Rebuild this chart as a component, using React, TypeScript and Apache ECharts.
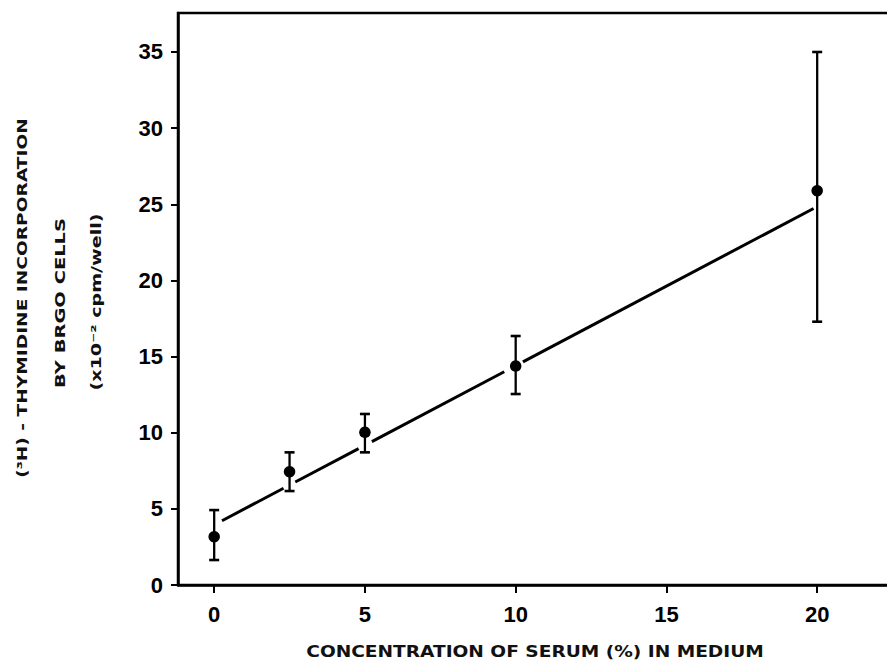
import React, { useEffect, useRef } from "react";
import * as echarts from "echarts";

// Serum concentration (%) and tritiated thymidine uptake (x10^-2 cpm/well)
const serumPct = [0, 2.5, 5, 10, 20];
const incorporation = [3.17, 7.44, 10.03, 14.38, 25.89];
const errLow = [1.64, 6.17, 8.71, 12.54, 17.29];
const errHigh = [4.92, 8.71, 11.23, 16.35, 35.0];

const xTicks = [0, 5, 10, 15, 20];
const yTicks = [0, 5, 10, 15, 20, 25, 30, 35];

// Least-squares line y = a + b*x, drawn in pieces that stop short of each error bar
const fitIntercept = 3.95;
const fitSlope = 1.045;
const fitSegments = [
  [0.26, 2.3],
  [2.69, 4.79],
  [5.23, 9.62],
  [10.24, 19.88],
];

const xTitle = "CONCENTRATION OF SERUM (%) IN MEDIUM";
const yTitleLines = [
  "(³H) - THYMIDINE INCORPORATION",
  "BY BRGO CELLS",
  "(x10⁻² cpm/well)",
];

const X_MIN = -1.2;
const X_MAX = 24;
const Y_MAX = 37.56;
const PX_PER_X = 30.15;

const tickFont = '"Liberation Sans Narrow", "Liberation Sans", Arial, sans-serif';
const titleFamily = '"DejaVu Sans", sans-serif';

function measure(text: string, font: string): number {
  const ctx = document.createElement("canvas").getContext("2d");
  if (!ctx) return text.length * 8;
  ctx.font = font;
  return ctx.measureText(text).width;
}

// Text stretched along its baseline so that it spans a given length
function spacedText(
  text: string,
  size: number,
  x: number,
  y: number,
  span: number,
  vertical: boolean
) {
  const font = `bold ${size}px ${titleFamily}`;
  const w = measure(text, font);
  return {
    type: "text",
    x,
    y,
    rotation: vertical ? Math.PI / 2 : 0,
    scaleX: span / w,
    silent: true,
    style: {
      text,
      font,
      fill: "#111",
      align: "center",
      verticalAlign: "middle",
      textAlign: "center",
      textVerticalAlign: "middle",
    },
  };
}

export default function App() {
  const ref = useRef<HTMLDivElement>(null);

  useEffect(() => {
    if (!ref.current) return;
    const chart = echarts.init(ref.current, undefined, { renderer: "svg" });

    const lineSeries = fitSegments.map(([a, b]) => ({
      type: "line",
      data: [
        [a, fitIntercept + fitSlope * a],
        [b, fitIntercept + fitSlope * b],
      ],
      symbol: "none",
      silent: true,
      lineStyle: { color: "#000", width: 3 },
      z: 2,
    }));

    const option: any = {
      animation: false,
      backgroundColor: "#fff",
      grid: {
        left: 178,
        top: 13,
        width: (X_MAX - X_MIN) * PX_PER_X,
        height: 572,
        show: true,
        borderColor: "#000",
        borderWidth: 2.5,
        backgroundColor: "transparent",
      },
      xAxis: {
        type: "value",
        min: X_MIN,
        max: X_MAX,
        axisLine: { show: true, onZero: false, lineStyle: { color: "#000", width: 2.5 } },
        axisTick: {
          show: true,
          customValues: xTicks,
          length: 8,
          lineStyle: { color: "#000", width: 2 },
        },
        axisLabel: {
          customValues: xTicks,
          margin: 18,
          fontSize: 22,
          fontWeight: "bold",
          fontFamily: tickFont,
          color: "#000",
        },
        splitLine: { show: false },
      },
      yAxis: {
        type: "value",
        min: 0,
        max: Y_MAX,
        axisLine: { show: true, onZero: false, lineStyle: { color: "#000", width: 2.5 } },
        axisTick: {
          show: true,
          customValues: yTicks,
          length: 7,
          lineStyle: { color: "#000", width: 2 },
        },
        axisLabel: {
          customValues: yTicks,
          margin: 15,
          fontSize: 22,
          fontWeight: "bold",
          fontFamily: tickFont,
          color: "#000",
        },
        splitLine: { show: false },
      },
      graphic: [
        spacedText(xTitle, 16, 535, 651, 458, false),
        spacedText(yTitleLines[0], 13.5, 22, 298, 360, true),
        spacedText(yTitleLines[1], 13.5, 60, 303, 170, true),
        spacedText(yTitleLines[2], 13.5, 97, 302, 177, true),
      ],
      series: [
        ...lineSeries,
        {
          type: "custom",
          data: serumPct.map((x, i) => [x, errLow[i], errHigh[i]]),
          encode: { x: 0, y: [1, 2] },
          z: 3,
          silent: true,
          renderItem: (_params: any, api: any) => {
            const x = api.value(0);
            const lo = api.coord([x, api.value(1)]);
            const hi = api.coord([x, api.value(2)]);
            const cap = 5;
            const stroke = { stroke: "#000", lineWidth: 2.3 };
            return {
              type: "group",
              children: [
                { type: "line", shape: { x1: lo[0], y1: lo[1], x2: hi[0], y2: hi[1] }, style: stroke },
                { type: "line", shape: { x1: lo[0] - cap, y1: lo[1], x2: lo[0] + cap, y2: lo[1] }, style: { ...stroke, lineWidth: 2.6 } },
                { type: "line", shape: { x1: hi[0] - cap, y1: hi[1], x2: hi[0] + cap, y2: hi[1] }, style: { ...stroke, lineWidth: 2.6 } },
              ],
            };
          },
        },
        {
          type: "scatter",
          data: serumPct.map((x, i) => [x, incorporation[i]]),
          symbol: "circle",
          symbolSize: 11.5,
          itemStyle: { color: "#000", opacity: 1 },
          z: 4,
          silent: true,
        },
      ],
    };

    chart.setOption(option);
    return () => chart.dispose();
  }, []);

  return (
    <div
      style={{
        position: "fixed",
        left: 0,
        top: 0,
        width: 887,
        height: 663,
        overflow: "hidden",
        background: "#fff",
      }}
    >
      <div ref={ref} style={{ width: 960, height: 663 }} />
    </div>
  );
}
